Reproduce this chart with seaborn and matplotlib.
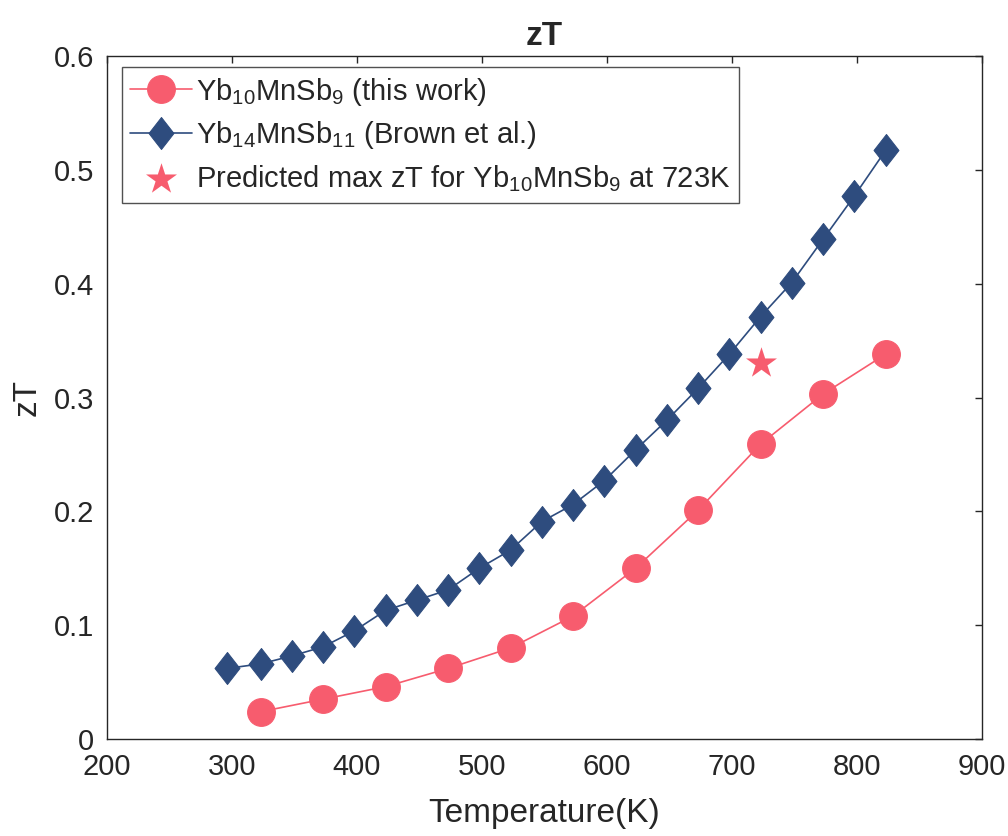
import pandas as pd
import matplotlib
matplotlib.use("Agg")
import matplotlib.pyplot as plt
import seaborn as sns

# data
temp_this = [323, 373, 423, 473, 523, 573, 623, 673, 723, 773, 823]
zt_this = [0.024, 0.035, 0.046, 0.062, 0.080, 0.108, 0.150, 0.201, 0.259, 0.303, 0.338]

temp_brown = [296, 323, 348, 373, 398, 423, 448, 473, 498, 523, 548,
              573, 598, 623, 648, 673, 698, 723, 748, 773, 798, 823]
zt_brown = [0.062, 0.066, 0.073, 0.081, 0.095, 0.113, 0.122, 0.131, 0.150, 0.166, 0.191,
            0.206, 0.227, 0.254, 0.280, 0.308, 0.338, 0.371, 0.401, 0.439, 0.477, 0.517]

temp_pred = [723]
zt_pred = [0.330]

#formatting
sns.set_style('white')
plt.rcParams['font.family'] = ['Liberation Sans', 'DejaVu Sans']
plt.rcParams['mathtext.fontset'] = 'custom'
plt.rcParams['mathtext.rm'] = 'Liberation Sans'
plt.rcParams['mathtext.it'] = 'Liberation Sans:italic'
plt.rcParams['xtick.direction'] = 'in'
plt.rcParams['ytick.direction'] = 'in'

red = "#F75C6E"
blue = "#2E4C7E"
ink = "#262626"

# matlab style diamond, a bit taller than wide
diamond = [(0, 1), (0.78, 0), (0, -1), (-0.78, 0), (0, 1)]

df_this = pd.DataFrame({"T": temp_this, "zT": zt_this})
df_brown = pd.DataFrame({"T": temp_brown, "zT": zt_brown})
df_pred = pd.DataFrame({"T": temp_pred, "zT": zt_pred})

fig = plt.figure(figsize=(10.08, 8.36), dpi=100)
ax = fig.add_axes([0.106, 0.116, 0.868, 0.817])

sns.lineplot(data=df_this, x="T", y="zT", ax=ax, color=red, marker="o",
             markersize=20, markeredgecolor=red, linewidth=1.2,
             label=r"Yb$_{10}$MnSb$_9$ (this work)")
sns.lineplot(data=df_brown, x="T", y="zT", ax=ax, color=blue, marker=diamond,
             markersize=23, markeredgecolor=blue, linewidth=1.2,
             label=r"Yb$_{14}$MnSb$_{11}$ (Brown et al.)")
sns.scatterplot(data=df_pred, x="T", y="zT", ax=ax, color=red, marker="*",
                s=550, edgecolor=red, linewidth=0,
                label=r"Predicted max zT for Yb$_{10}$MnSb$_9$ at 723K")

ax.set_xlim(200, 900)
ax.set_ylim(0, 0.6)
ax.set_xticks(range(200, 901, 100))
ax.set_yticks([0, 0.1, 0.2, 0.3, 0.4, 0.5, 0.6])
ax.set_yticklabels(["0", "0.1", "0.2", "0.3", "0.4", "0.5", "0.6"])
ax.tick_params(axis='both', labelsize=21, colors=ink, length=5, width=1,
               top=True, right=True)
ax.tick_params(axis='x', pad=10)
ax.tick_params(axis='y', pad=9)
for s in ax.spines.values():
    s.set_color(ink)
    s.set_linewidth(1)

ax.set_xlabel('Temperature(K)', fontsize=24, color=ink, labelpad=12)
ax.set_ylabel('zT', fontsize=24, color=ink, labelpad=8)
ax.set_title('zT', fontsize=24, fontweight='bold', pad=8)

leg = ax.legend(loc='upper left', bbox_to_anchor=(0.017, 0.984), fontsize=21,
                frameon=True, fancybox=False, edgecolor=ink,
                handlelength=2.1, handletextpad=0.15, borderpad=0.3,
                labelspacing=0.4, borderaxespad=0)
leg.get_frame().set_linewidth(1)

fig.savefig("out.png", dpi=100)
